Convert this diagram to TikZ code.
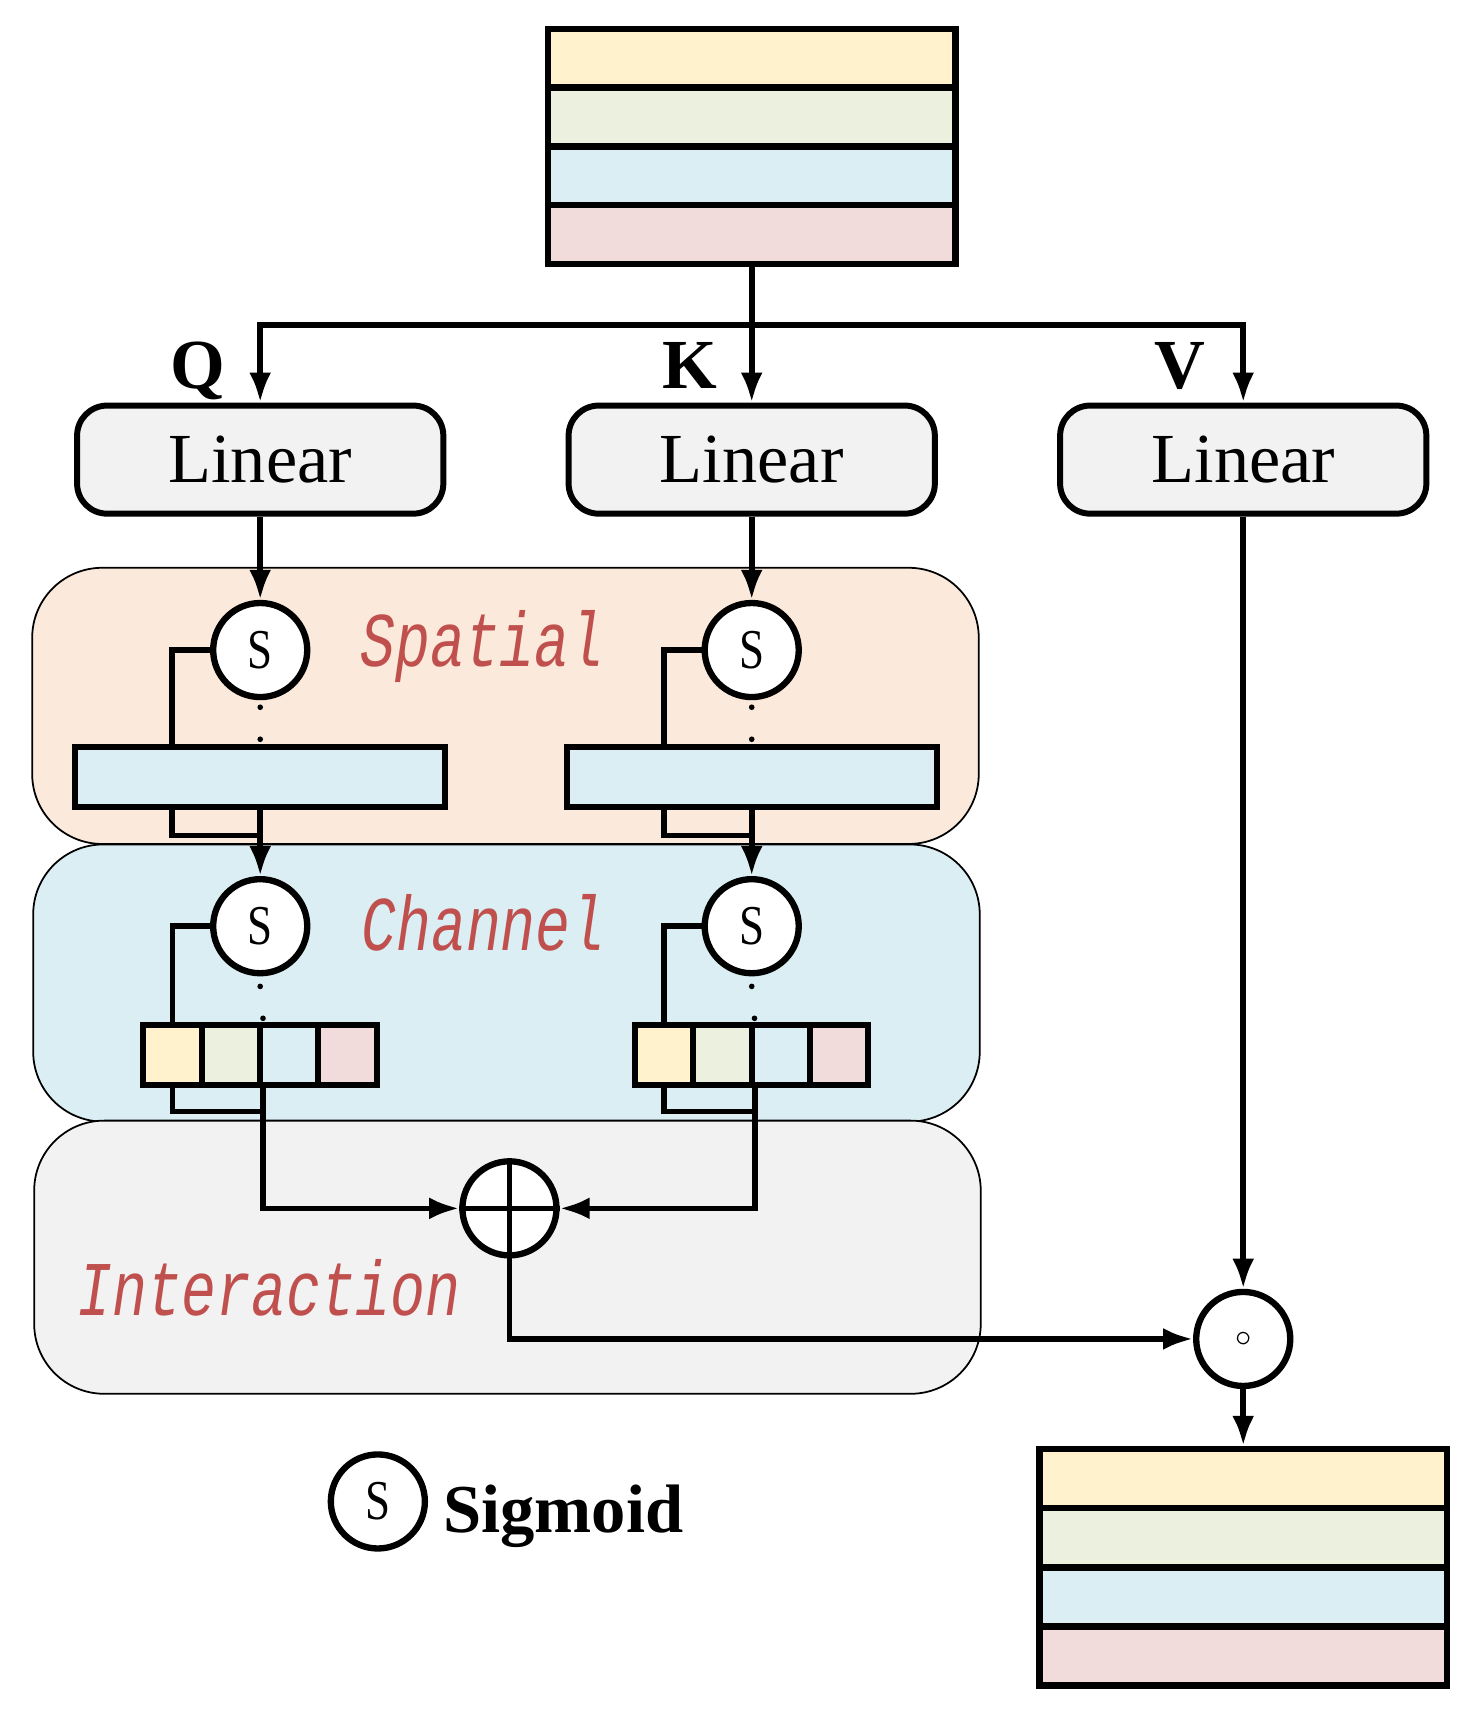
\documentclass[tikz,border=0pt]{standalone}
\usepackage{fontspec}
\setmainfont{Liberation Serif}
\newfontfamily\regionfont[FakeStretch=0.75]{Liberation Mono}
\newfontfamily\opfont[FakeStretch=0.8]{Liberation Serif}
\usetikzlibrary{arrows.meta}
\definecolor{stripeY}{HTML}{FFF2CC}
\definecolor{stripeG}{HTML}{EBF1DE}
\definecolor{stripeB}{HTML}{DAEEF3}
\definecolor{stripeP}{HTML}{F2DCDB}
\definecolor{boxgray}{HTML}{F2F2F2}
\definecolor{spatialbg}{HTML}{FBEADB}
\definecolor{labelred}{HTML}{C0504D}
\tikzstyle{stripe}=[draw, line width=1.8pt, minimum width=4.07cm, minimum height=0.59cm, inner sep=0pt]
\tikzstyle{linear}=[draw, line width=1.7pt, rounded corners=0.3cm, fill=boxgray, minimum width=3.66cm, minimum height=1.08cm, font=\fontsize{20}{24}\selectfont]
\tikzstyle{op}=[draw, circle, line width=1.8pt, fill=white, minimum size=0.94cm, inner sep=0pt, font=\fontsize{16}{18}\selectfont\opfont]
\tikzstyle{bar}=[draw, line width=1.7pt, fill=stripeB, minimum width=3.7cm, minimum height=0.6cm, inner sep=0pt]
\tikzstyle{cell}=[draw, line width=1.7pt, minimum width=0.585cm, minimum height=0.6cm, inner sep=0pt]
\tikzstyle{region}=[draw, line width=0.5pt, rounded corners=0.7cm, minimum width=9.46cm, inner sep=0pt]
\tikzstyle{regionlabel}=[anchor=base west, inner sep=0pt, text=labelred, font=\fontsize{22}{26}\selectfont\regionfont\itshape]
\tikzstyle{qkv}=[anchor=base, inner sep=0pt, font=\fontsize{20}{24}\selectfont\bfseries]
\tikzstyle{flow}=[line width=1.6pt]
\tikzstyle{arr}=[flow, -{Latex[length=0.3cm, width=0.22cm]}]
\tikzstyle{dotline}=[line width=1.6pt, line cap=round, dash pattern=on 0pt off 0.32cm]

\begin{document}
\begin{tikzpicture}[x=0.00996cm, y=-0.00997cm]
    \useasboundingbox (0,0) rectangle (1478.9,1722.2);
    % regions
    \node[region, fill=spatialbg, minimum height=2.76cm] (spatial) at (507, 708) {};
    \node[region, fill=stripeB, minimum height=2.77cm] (channel) at (508, 986) {};
    \node[region, fill=boxgray, minimum height=2.73cm] (interaction) at (509, 1261) {};
    \node[regionlabel] (spatialtxt) at (361, 669) {Spatial};
    \node[regionlabel] (channeltxt) at (362, 953) {Channel};
    \node[regionlabel] (interactiontxt) at (77, 1319) {Interaction};

    % input
    \node[stripe, fill=stripeY] (in1) at (754, 58.5) {};
    \node[stripe, fill=stripeG] (in2) at (754, 117.5) {};
    \node[stripe, fill=stripeB] (in3) at (754, 176.5) {};
    \node[stripe, fill=stripeP] (in4) at (754, 235.5) {};
    \coordinate (split) at (754, 326);

    % projections
    \node[linear] (linQ) at (261, 461) {Linear};
    \node[linear, text depth=-0.08cm] (linK) at (754, 461) {Linear};
    \node[linear, text depth=-0.08cm] (linV) at (1247, 461) {Linear};
    \node[qkv] (lblQ) at (198, 390) {Q};
    \node[qkv] (lblK) at (692, 390) {K};
    \node[qkv] (lblV) at (1183, 390) {V};
    \draw[flow] (in4.south) -- (split);
    \draw[arr] (split) -- (linK.north);
    \draw[arr] (split) -| (linQ.north);
    \draw[arr] (split) -| (linV.north);

    % spatial
    \node[op] (sQ1) at (261, 652) {S};
    \node[op] (sK1) at (754, 652) {S};
    \node[bar] (barQ) at (261, 779) {};
    \node[bar] (barK) at (754, 779) {};
    \coordinate (jQ1) at (261, 838);
    \coordinate (jK1) at (754, 838);
    \draw[arr] (linQ.south) -- (sQ1.north);
    \draw[arr] (linK.south) -- (sK1.north);
    \draw[flow] (sQ1.west) -| ([xshift=1cm]barQ.north west);
    \draw[flow] (sK1.west) -| ([xshift=1cm]barK.north west);
    \draw[dotline] ([yshift=-0.07cm]sQ1.south) -- (barQ.north);
    \draw[dotline] ([yshift=-0.07cm]sK1.south) -- (barK.north);
    \draw[flow] ([xshift=1cm]barQ.south west) |- (jQ1);
    \draw[flow] ([xshift=1cm]barK.south west) |- (jK1);

    % channel
    \node[op] (sQ2) at (261, 929) {S};
    \node[op] (sK2) at (754, 929) {S};
    \node[cell, fill=stripeY] (cQ1) at (173.25, 1058) {};
    \node[cell, fill=stripeG] (cQ2) at (231.75, 1058) {};
    \node[cell, fill=stripeB] (cQ3) at (290.25, 1058) {};
    \node[cell, fill=stripeP] (cQ4) at (348.75, 1058) {};
    \node[cell, fill=stripeY] (cK1) at (666.25, 1058) {};
    \node[cell, fill=stripeG] (cK2) at (724.75, 1058) {};
    \node[cell, fill=stripeB] (cK3) at (783.25, 1058) {};
    \node[cell, fill=stripeP] (cK4) at (841.75, 1058) {};
    \coordinate (jQ2) at (261, 1115);
    \coordinate (jK2) at (754, 1115);
    \draw[arr] (barQ.south) -- (sQ2.north);
    \draw[arr] (barK.south) -- (sK2.north);
    \draw[flow] (sQ2.west) -| ([xshift=0.32cm]cQ1.north west);
    \draw[flow] (sK2.west) -| ([xshift=0.32cm]cK1.north west);
    \draw[dotline] ([yshift=-0.1cm]sQ2.south) -- (cQ2.north east);
    \draw[dotline] ([yshift=-0.1cm]sK2.south) -- (cK2.north east);
    \draw[flow] ([xshift=0.32cm]cQ1.south west) |- (jQ2);
    \draw[flow] ([xshift=0.32cm]cK1.south west) |- (jK2);

    % interaction
    \node[op] (add) at (511, 1212) {};
    \draw[flow] (add.north) -- (add.south);
    \draw[flow] (add.west) -- (add.east);
    \draw[arr] (cQ2.south east) |- (add.west);
    \draw[arr] (cK2.south east) |- (add.east);

    % output
    \node[op] (mul) at (1247, 1343) {\fontsize{9}{9}\selectfont$\circ$};
    \node[stripe, fill=stripeY] (out1) at (1247, 1483) {};
    \node[stripe, fill=stripeG] (out2) at (1247, 1542) {};
    \node[stripe, fill=stripeB] (out3) at (1247, 1602) {};
    \node[stripe, fill=stripeP] (out4) at (1247, 1661) {};
    \draw[arr] (add.south) |- (mul.west);
    \draw[arr] (linV.south) -- (mul.north);
    \draw[arr] (mul.south) -- (out1.north);

    % legend
    \node[op] (sleg) at (379, 1506) {S};
    \node[anchor=base west, inner sep=0pt, font=\fontsize{19.5}{23}\selectfont\bfseries] (legtxt) at (444, 1537) {Sigmoid};
\end{tikzpicture}
\end{document}
